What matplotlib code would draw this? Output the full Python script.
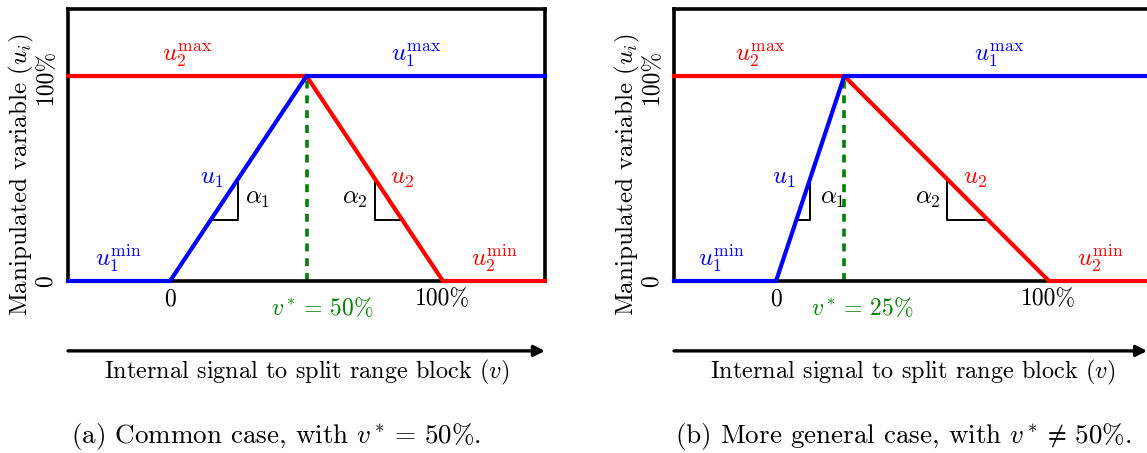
import matplotlib
matplotlib.use("Agg")
import matplotlib.pyplot as plt
from matplotlib.transforms import blended_transform_factory

plt.rcParams["font.family"] = "serif"
plt.rcParams["font.serif"] = ["cmr10"]
plt.rcParams["mathtext.fontset"] = "cm"
plt.rcParams["axes.unicode_minus"] = False

# axis range of the internal signal v (fraction of full range)
V_MIN, V_MAX = -0.374, 1.374
U_MAX = 1.327

# one entry per panel
SPLIT_POINTS = [0.50, 0.25]
SPLIT_LABELS = [r"$v^* =\,50\%$", r"$v^* =\,25\%$"]
CAPTIONS = [r"(a) Common case, with $v^* =\,50\%$.",
            r"(b) More general case, with $v^* \neq\,50\%$."]
# slope markers (v start, v end) on u1 and u2
ALPHA1_SPAN = [(0.15, 0.25), (0.075, 0.125)]
ALPHA2_SPAN = [(0.75, 0.85), (0.625, 0.775)]
# label anchors in data coordinates (v, u)
U1_LABEL = [(0.154, 0.50), (0.029, 0.50)]
U2_LABEL = [(0.850, 0.50), (0.728, 0.50)]
A1_LABEL = [(0.322, 0.40), (0.206, 0.40)]
A2_LABEL = [(0.678, 0.40), (0.555, 0.40)]
U1MIN_LABEL = [(-0.19, 0.107), (-0.20, 0.107)]
U2MIN_LABEL = [(1.187, 0.107), (1.19, 0.107)]
U2MAX_LABEL = [(0.062, 1.10), (-0.06, 1.10)]
U1MAX_LABEL = [(0.90, 1.10), (0.816, 1.10)]
VSTAR_LABEL_V = [0.557, 0.316]

BLUE = "#0000ff"
RED = "#ff0000"
GREEN = "#008000"


def u1(v, vs):
    return min(max(v / vs, 0.0), 1.0)


def u2(v, vs):
    return min(max((1.0 - v) / (1.0 - vs), 0.0), 1.0)


def draw_panel(ax, k):
    vs = SPLIT_POINTS[k]
    ax.set_xlim(V_MIN, V_MAX)
    ax.set_ylim(0, U_MAX)
    ax.set_xticks([])
    ax.set_yticks([])
    for sp in ax.spines.values():
        sp.set_linewidth(2.6)

    v1 = [V_MIN, 0.0, vs, V_MAX]
    v2 = [V_MIN, vs, 1.0, V_MAX]
    ax.plot(v1, [u1(v, vs) for v in v1], color=BLUE, lw=3.0,
            zorder=4, clip_on=False, solid_joinstyle="miter")
    ax.plot(v2, [u2(v, vs) for v in v2], color=RED, lw=3.0,
            zorder=3, clip_on=False, solid_joinstyle="miter")
    ax.plot([vs, vs], [0, 1], color=GREEN, lw=2.6,
            linestyle=(0, (2.2, 1.9)), zorder=2)

    a, b = ALPHA1_SPAN[k]
    ax.plot([a, b, b], [u1(a, vs), u1(a, vs), u1(b, vs)],
            color="black", lw=1.4, zorder=2)
    a, b = ALPHA2_SPAN[k]
    ax.plot([a, a, b], [u2(a, vs), u2(b, vs), u2(b, vs)],
            color="black", lw=1.4, zorder=2)

    kw = dict(ha="center", va="center", fontsize=18)
    ax.text(*U1_LABEL[k], r"$u_1$", color=BLUE, **kw)
    ax.text(*U2_LABEL[k], r"$u_2$", color=RED, **kw)
    ax.text(*A1_LABEL[k], r"$\alpha_1$", color="black", **kw)
    ax.text(*A2_LABEL[k], r"$\alpha_2$", color="black", **kw)
    ax.text(*U1MIN_LABEL[k], r"$u_1^{\min}$", color=BLUE, **kw)
    ax.text(*U2MIN_LABEL[k], r"$u_2^{\min}$", color=RED, **kw)
    ax.text(*U2MAX_LABEL[k], r"$u_2^{\max}$", color=RED, **kw)
    ax.text(*U1MAX_LABEL[k], r"$u_1^{\max}$", color=BLUE, **kw)

    # tick labels drawn as text
    tk = dict(ha="center", va="center", fontsize=17)
    ax.text(0.0, -0.09, "0", clip_on=False, **tk)
    ax.text(1.0, -0.09, "100%", clip_on=False, **tk)
    ax.text(VSTAR_LABEL_V[k], -0.135, SPLIT_LABELS[k], color=GREEN,
            clip_on=False, **tk)
    ty = blended_transform_factory(ax.transAxes, ax.transData)
    ax.text(-0.047, 0.0, "0", rotation=90, transform=ty, **tk)
    ax.text(-0.047, 1.0, "100%", rotation=90, transform=ty, **tk)
    ax.text(-0.0985, 0.39, r"Manipulated variable $(u_i)$", rotation=90,
            transform=ax.transAxes, ha="center", va="center", fontsize=18)

    # arrow for the internal signal axis
    end = 1.0 if k == 0 else 0.992
    ax.annotate("", xy=(end, -0.257), xytext=(0.0, -0.257),
                xycoords="axes fraction", textcoords="axes fraction",
                annotation_clip=False,
                arrowprops=dict(arrowstyle="-|>", lw=2.4, color="black",
                                mutation_scale=16, shrinkA=0, shrinkB=0))
    ax.text(0.5, -0.338, r"Internal signal to split range block $(v)$",
            transform=ax.transAxes, ha="center", va="center", fontsize=17.5)


fig = plt.figure(figsize=(11.47, 4.53), dpi=100)
W, H = 1147.0, 453.0
ax_a = fig.add_axes([68 / W, (H - 281) / H, 477 / W, 272 / H])
ax_b = fig.add_axes([674 / W, (H - 281) / H, 477 / W, 272 / H])
draw_panel(ax_a, 0)
draw_panel(ax_b, 1)

fig.text(276 / W, 1 - 437 / H, CAPTIONS[0], ha="center", va="center", fontsize=19.5)
fig.text(903 / W, 1 - 437 / H, CAPTIONS[1], ha="center", va="center", fontsize=19.5)

fig.savefig("out.png", dpi=100)
